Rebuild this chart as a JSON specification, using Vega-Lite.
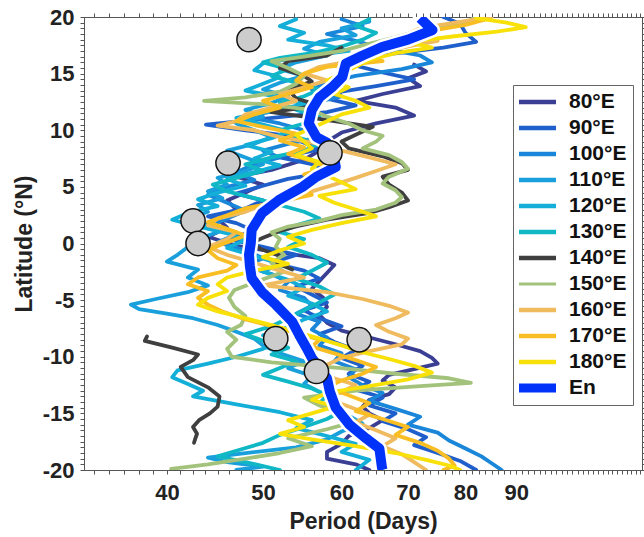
{
  "$schema": "https://vega.github.io/schema/vega-lite/v6.json",
  "width": 558,
  "height": 453,
  "autosize": {"type": "none"},
  "padding": {"left": 84, "top": 17, "right": 2, "bottom": 67},
  "background": "white",
  "config": {
    "view": {"stroke": "#555", "strokeWidth": 1},
    "font": "Liberation Sans",
    "axis": {
      "domainColor": "#555",
      "tickColor": "#555",
      "labelFont": "Liberation Sans",
      "labelFontSize": 22,
      "labelFontWeight": "bold",
      "labelColor": "#222",
      "titleFont": "Liberation Sans",
      "titleFontSize": 23,
      "titleFontWeight": "bold",
      "titleColor": "#222",
      "grid": false,
      "tickSize": 4,
      "labelOverlap": false,
      "labelBound": false,
      "labelFlush": false
    }
  },
  "datasets": {
    "lines": [
      {"lon":"80°E","lat":15.8,"period":71},{"lon":"80°E","lat":15.2,"period":73},{"lon":"80°E","lat":14.6,"period":70},{"lon":"80°E","lat":13.9,"period":72},{"lon":"80°E","lat":13.2,"period":66},{"lon":"80°E","lat":12.6,"period":62},{"lon":"80°E","lat":12.0,"period":68},{"lon":"80°E","lat":11.3,"period":71},{"lon":"80°E","lat":10.6,"period":65},{"lon":"80°E","lat":9.8,"period":60},{"lon":"80°E","lat":9.0,"period":58},{"lon":"80°E","lat":8.2,"period":57},{"lon":"80°E","lat":7.4,"period":55},{"lon":"80°E","lat":6.5,"period":51},{"lon":"80°E","lat":5.9,"period":47},{"lon":"80°E","lat":5.2,"period":50},{"lon":"80°E","lat":4.5,"period":48},{"lon":"80°E","lat":3.8,"period":46},{"lon":"80°E","lat":3.0,"period":47},{"lon":"80°E","lat":2.2,"period":45},{"lon":"80°E","lat":1.4,"period":46},{"lon":"80°E","lat":0.6,"period":44},{"lon":"80°E","lat":-0.2,"period":47},{"lon":"80°E","lat":-0.8,"period":52},{"lon":"80°E","lat":-1.3,"period":57},{"lon":"80°E","lat":-1.9,"period":59},{"lon":"80°E","lat":-2.6,"period":58},{"lon":"80°E","lat":-3.3,"period":57},{"lon":"80°E","lat":-4.0,"period":56},{"lon":"80°E","lat":-4.8,"period":57.5},{"lon":"80°E","lat":-5.6,"period":58},{"lon":"80°E","lat":-6.3,"period":57},{"lon":"80°E","lat":-7.0,"period":58},{"lon":"80°E","lat":-7.7,"period":60},{"lon":"80°E","lat":-8.3,"period":64},{"lon":"80°E","lat":-8.9,"period":68},{"lon":"80°E","lat":-9.5,"period":72},{"lon":"80°E","lat":-10.1,"period":74},{"lon":"80°E","lat":-10.6,"period":75},{"lon":"80°E","lat":-11.1,"period":71},{"lon":"80°E","lat":-11.6,"period":67},{"lon":"80°E","lat":-12.1,"period":66},{"lon":"80°E","lat":-12.7,"period":68},{"lon":"80°E","lat":-13.3,"period":67},{"lon":"80°E","lat":-13.8,"period":64},{"lon":"80°E","lat":-14.4,"period":63},{"lon":"80°E","lat":-15.0,"period":64},{"lon":"80°E","lat":-15.6,"period":66},{"lon":"80°E","lat":-16.3,"period":64},{"lon":"80°E","lat":-17.0,"period":61},{"lon":"80°E","lat":-17.7,"period":60},{"lon":"80°E","lat":-18.4,"period":58},{"lon":"80°E","lat":-19.0,"period":58},{"lon":"80°E","lat":-19.5,"period":62},{"lon":"80°E","lat":-20,"period":64},

      {"lon":"90°E","lat":20,"period":76},{"lon":"90°E","lat":19.4,"period":79},{"lon":"90°E","lat":18.6,"period":80},{"lon":"90°E","lat":17.8,"period":82},{"lon":"90°E","lat":17.3,"period":76},{"lon":"90°E","lat":16.8,"period":68},{"lon":"90°E","lat":16.3,"period":63},{"lon":"90°E","lat":15.7,"period":62},{"lon":"90°E","lat":15.1,"period":66},{"lon":"90°E","lat":14.5,"period":71},{"lon":"90°E","lat":13.9,"period":65},{"lon":"90°E","lat":13.4,"period":60},{"lon":"90°E","lat":12.8,"period":58},{"lon":"90°E","lat":12.2,"period":62},{"lon":"90°E","lat":11.6,"period":58},{"lon":"90°E","lat":11.0,"period":50},{"lon":"90°E","lat":10.5,"period":43.8},{"lon":"90°E","lat":10.0,"period":48},{"lon":"90°E","lat":9.5,"period":53},{"lon":"90°E","lat":8.9,"period":55},{"lon":"90°E","lat":8.3,"period":57},{"lon":"90°E","lat":7.6,"period":52},{"lon":"90°E","lat":7.0,"period":56},{"lon":"90°E","lat":6.4,"period":59},{"lon":"90°E","lat":5.7,"period":53},{"lon":"90°E","lat":5.1,"period":50},{"lon":"90°E","lat":4.4,"period":47},{"lon":"90°E","lat":3.8,"period":50},{"lon":"90°E","lat":3.1,"period":48},{"lon":"90°E","lat":2.4,"period":44},{"lon":"90°E","lat":1.8,"period":47},{"lon":"90°E","lat":1.1,"period":49},{"lon":"90°E","lat":0.4,"period":46},{"lon":"90°E","lat":-0.3,"period":50},{"lon":"90°E","lat":-1.0,"period":54},{"lon":"90°E","lat":-1.7,"period":51},{"lon":"90°E","lat":-2.4,"period":55},{"lon":"90°E","lat":-3.1,"period":57},{"lon":"90°E","lat":-3.8,"period":54},{"lon":"90°E","lat":-4.5,"period":56},{"lon":"90°E","lat":-5.2,"period":58},{"lon":"90°E","lat":-5.9,"period":55},{"lon":"90°E","lat":-6.6,"period":57},{"lon":"90°E","lat":-7.3,"period":60},{"lon":"90°E","lat":-8.0,"period":57},{"lon":"90°E","lat":-8.7,"period":59},{"lon":"90°E","lat":-9.4,"period":62},{"lon":"90°E","lat":-10.1,"period":60},{"lon":"90°E","lat":-10.8,"period":63},{"lon":"90°E","lat":-11.5,"period":61},{"lon":"90°E","lat":-12.2,"period":64},{"lon":"90°E","lat":-12.9,"period":62},{"lon":"90°E","lat":-13.6,"period":66},{"lon":"90°E","lat":-14.3,"period":64},{"lon":"90°E","lat":-15.0,"period":68},{"lon":"90°E","lat":-15.7,"period":66},{"lon":"90°E","lat":-16.4,"period":70},{"lon":"90°E","lat":-17.1,"period":73},{"lon":"90°E","lat":-17.8,"period":71},{"lon":"90°E","lat":-18.5,"period":75},{"lon":"90°E","lat":-19.2,"period":79},{"lon":"90°E","lat":-20,"period":82},

      {"lon":"100°E","lat":19.8,"period":60},{"lon":"100°E","lat":19.2,"period":63},{"lon":"100°E","lat":18.5,"period":58},{"lon":"100°E","lat":17.9,"period":62},{"lon":"100°E","lat":17.2,"period":66},{"lon":"100°E","lat":16.6,"period":72},{"lon":"100°E","lat":16.0,"period":74},{"lon":"100°E","lat":15.4,"period":69},{"lon":"100°E","lat":14.8,"period":62},{"lon":"100°E","lat":14.2,"period":58},{"lon":"100°E","lat":13.6,"period":56},{"lon":"100°E","lat":13.0,"period":60},{"lon":"100°E","lat":12.4,"period":56},{"lon":"100°E","lat":11.8,"period":52},{"lon":"100°E","lat":11.2,"period":48},{"lon":"100°E","lat":10.6,"period":52},{"lon":"100°E","lat":10.0,"period":55},{"lon":"100°E","lat":9.4,"period":57},{"lon":"100°E","lat":8.8,"period":53},{"lon":"100°E","lat":8.2,"period":50},{"lon":"100°E","lat":7.6,"period":52},{"lon":"100°E","lat":7.0,"period":49},{"lon":"100°E","lat":6.3,"period":47},{"lon":"100°E","lat":5.6,"period":49},{"lon":"100°E","lat":5.0,"period":46},{"lon":"100°E","lat":4.3,"period":44},{"lon":"100°E","lat":3.6,"period":46},{"lon":"100°E","lat":2.9,"period":48},{"lon":"100°E","lat":2.2,"period":46},{"lon":"100°E","lat":1.5,"period":44},{"lon":"100°E","lat":0.8,"period":47},{"lon":"100°E","lat":0.1,"period":45},{"lon":"100°E","lat":-0.6,"period":48},{"lon":"100°E","lat":-1.3,"period":50},{"lon":"100°E","lat":-2.0,"period":48},{"lon":"100°E","lat":-2.7,"period":51},{"lon":"100°E","lat":-3.4,"period":53},{"lon":"100°E","lat":-4.1,"period":52},{"lon":"100°E","lat":-4.8,"period":55},{"lon":"100°E","lat":-5.5,"period":56},{"lon":"100°E","lat":-6.2,"period":54},{"lon":"100°E","lat":-6.9,"period":57},{"lon":"100°E","lat":-7.6,"period":56},{"lon":"100°E","lat":-8.3,"period":58},{"lon":"100°E","lat":-9.0,"period":57},{"lon":"100°E","lat":-9.7,"period":60},{"lon":"100°E","lat":-10.4,"period":59},{"lon":"100°E","lat":-11.1,"period":62},{"lon":"100°E","lat":-11.8,"period":61},{"lon":"100°E","lat":-12.5,"period":63},{"lon":"100°E","lat":-13.2,"period":66},{"lon":"100°E","lat":-13.9,"period":64},{"lon":"100°E","lat":-14.6,"period":68},{"lon":"100°E","lat":-15.3,"period":72},{"lon":"100°E","lat":-16.0,"period":70},{"lon":"100°E","lat":-16.7,"period":75},{"lon":"100°E","lat":-17.4,"period":77},{"lon":"100°E","lat":-18.1,"period":80},{"lon":"100°E","lat":-18.8,"period":83},{"lon":"100°E","lat":-19.4,"period":85},{"lon":"100°E","lat":-20,"period":87},

      {"lon":"110°E","lat":19.6,"period":64},{"lon":"110°E","lat":19.0,"period":60},{"lon":"110°E","lat":18.4,"period":62},{"lon":"110°E","lat":17.8,"period":57},{"lon":"110°E","lat":17.2,"period":55},{"lon":"110°E","lat":16.6,"period":58},{"lon":"110°E","lat":16.0,"period":54},{"lon":"110°E","lat":15.4,"period":52},{"lon":"110°E","lat":14.8,"period":55},{"lon":"110°E","lat":14.2,"period":52},{"lon":"110°E","lat":13.6,"period":50},{"lon":"110°E","lat":13.0,"period":53},{"lon":"110°E","lat":12.4,"period":51},{"lon":"110°E","lat":11.8,"period":48},{"lon":"110°E","lat":11.2,"period":50},{"lon":"110°E","lat":10.6,"period":47},{"lon":"110°E","lat":10.0,"period":49},{"lon":"110°E","lat":9.4,"period":51},{"lon":"110°E","lat":8.8,"period":49},{"lon":"110°E","lat":8.2,"period":46},{"lon":"110°E","lat":7.6,"period":48},{"lon":"110°E","lat":7.0,"period":50},{"lon":"110°E","lat":6.4,"period":48},{"lon":"110°E","lat":5.8,"period":45},{"lon":"110°E","lat":5.2,"period":46},{"lon":"110°E","lat":4.6,"period":44},{"lon":"110°E","lat":4.0,"period":45.5},{"lon":"110°E","lat":3.4,"period":43},{"lon":"110°E","lat":2.8,"period":44},{"lon":"110°E","lat":2.2,"period":42},{"lon":"110°E","lat":1.6,"period":44},{"lon":"110°E","lat":1.0,"period":45},{"lon":"110°E","lat":0.4,"period":43},{"lon":"110°E","lat":-0.3,"period":42},{"lon":"110°E","lat":-1.0,"period":41},{"lon":"110°E","lat":-1.6,"period":40},{"lon":"110°E","lat":-2.3,"period":43},{"lon":"110°E","lat":-3.0,"period":42},{"lon":"110°E","lat":-3.7,"period":44},{"lon":"110°E","lat":-4.3,"period":42},{"lon":"110°E","lat":-4.9,"period":39},{"lon":"110°E","lat":-5.4,"period":36.8},{"lon":"110°E","lat":-5.8,"period":37.5},{"lon":"110°E","lat":-6.2,"period":40},{"lon":"110°E","lat":-6.6,"period":42.5},{"lon":"110°E","lat":-7.2,"period":45},{"lon":"110°E","lat":-7.8,"period":47},{"lon":"110°E","lat":-8.4,"period":49},{"lon":"110°E","lat":-9.0,"period":50},{"lon":"110°E","lat":-9.7,"period":52},{"lon":"110°E","lat":-10.4,"period":55},{"lon":"110°E","lat":-11.0,"period":53},{"lon":"110°E","lat":-11.7,"period":56},{"lon":"110°E","lat":-12.4,"period":55},{"lon":"110°E","lat":-13.1,"period":57},{"lon":"110°E","lat":-13.8,"period":59},{"lon":"110°E","lat":-14.5,"period":58},{"lon":"110°E","lat":-15.2,"period":61},{"lon":"110°E","lat":-15.9,"period":63},{"lon":"110°E","lat":-16.6,"period":60},{"lon":"110°E","lat":-17.3,"period":58},{"lon":"110°E","lat":-18.0,"period":54},{"lon":"110°E","lat":-18.5,"period":48},{"lon":"110°E","lat":-18.9,"period":44},{"lon":"110°E","lat":-19.3,"period":46},{"lon":"110°E","lat":-19.7,"period":50},{"lon":"110°E","lat":-20,"period":47},

      {"lon":"120°E","lat":19.8,"period":54},{"lon":"120°E","lat":19.2,"period":52},{"lon":"120°E","lat":18.6,"period":55},{"lon":"120°E","lat":18.0,"period":53},{"lon":"120°E","lat":17.5,"period":58},{"lon":"120°E","lat":17.0,"period":61},{"lon":"120°E","lat":16.5,"period":55},{"lon":"120°E","lat":15.9,"period":50},{"lon":"120°E","lat":15.3,"period":49},{"lon":"120°E","lat":14.7,"period":52},{"lon":"120°E","lat":14.1,"period":50},{"lon":"120°E","lat":13.5,"period":48},{"lon":"120°E","lat":12.9,"period":52},{"lon":"120°E","lat":12.3,"period":55},{"lon":"120°E","lat":11.7,"period":51},{"lon":"120°E","lat":11.1,"period":47},{"lon":"120°E","lat":10.5,"period":50},{"lon":"120°E","lat":9.9,"period":53},{"lon":"120°E","lat":9.3,"period":51},{"lon":"120°E","lat":8.7,"period":48},{"lon":"120°E","lat":8.1,"period":51},{"lon":"120°E","lat":7.5,"period":49},{"lon":"120°E","lat":6.9,"period":52},{"lon":"120°E","lat":6.3,"period":49},{"lon":"120°E","lat":5.7,"period":46},{"lon":"120°E","lat":5.1,"period":48},{"lon":"120°E","lat":4.5,"period":45},{"lon":"120°E","lat":3.9,"period":43},{"lon":"120°E","lat":3.3,"period":45},{"lon":"120°E","lat":2.7,"period":42},{"lon":"120°E","lat":2.1,"period":40.5},{"lon":"120°E","lat":1.5,"period":43},{"lon":"120°E","lat":0.9,"period":46},{"lon":"120°E","lat":0.3,"period":48},{"lon":"120°E","lat":-0.4,"period":46},{"lon":"120°E","lat":-1.1,"period":49},{"lon":"120°E","lat":-1.8,"period":52},{"lon":"120°E","lat":-2.5,"period":50},{"lon":"120°E","lat":-3.2,"period":53},{"lon":"120°E","lat":-3.9,"period":55},{"lon":"120°E","lat":-4.6,"period":53},{"lon":"120°E","lat":-5.3,"period":56},{"lon":"120°E","lat":-6.0,"period":58},{"lon":"120°E","lat":-6.7,"period":55},{"lon":"120°E","lat":-7.4,"period":53},{"lon":"120°E","lat":-8.1,"period":50},{"lon":"120°E","lat":-8.7,"period":52},{"lon":"120°E","lat":-9.3,"period":50},{"lon":"120°E","lat":-10.0,"period":47},{"lon":"120°E","lat":-10.6,"period":44},{"lon":"120°E","lat":-11.2,"period":41},{"lon":"120°E","lat":-11.8,"period":40.5},{"lon":"120°E","lat":-12.4,"period":42},{"lon":"120°E","lat":-13.0,"period":43.5},{"lon":"120°E","lat":-13.5,"period":42.5},{"lon":"120°E","lat":-14.2,"period":47},{"lon":"120°E","lat":-14.9,"period":52},{"lon":"120°E","lat":-15.6,"period":56},{"lon":"120°E","lat":-16.3,"period":54},{"lon":"120°E","lat":-17.0,"period":58},{"lon":"120°E","lat":-17.7,"period":62},{"lon":"120°E","lat":-18.4,"period":60},{"lon":"120°E","lat":-19.1,"period":64},{"lon":"120°E","lat":-20,"period":62},

      {"lon":"130°E","lat":19.8,"period":64},{"lon":"130°E","lat":19.2,"period":62},{"lon":"130°E","lat":18.6,"period":65},{"lon":"130°E","lat":18.0,"period":63},{"lon":"130°E","lat":17.4,"period":60},{"lon":"130°E","lat":16.8,"period":56},{"lon":"130°E","lat":16.4,"period":52},{"lon":"130°E","lat":16.0,"period":50},{"lon":"130°E","lat":15.4,"period":53},{"lon":"130°E","lat":14.8,"period":51},{"lon":"130°E","lat":14.2,"period":54},{"lon":"130°E","lat":13.6,"period":57},{"lon":"130°E","lat":13.0,"period":55},{"lon":"130°E","lat":12.4,"period":52},{"lon":"130°E","lat":11.8,"period":54},{"lon":"130°E","lat":11.2,"period":57},{"lon":"130°E","lat":10.6,"period":55},{"lon":"130°E","lat":10.0,"period":52},{"lon":"130°E","lat":9.4,"period":54},{"lon":"130°E","lat":8.8,"period":57},{"lon":"130°E","lat":8.2,"period":55},{"lon":"130°E","lat":7.6,"period":51},{"lon":"130°E","lat":7.0,"period":48},{"lon":"130°E","lat":6.4,"period":50},{"lon":"130°E","lat":5.8,"period":47},{"lon":"130°E","lat":5.2,"period":44.5},{"lon":"130°E","lat":4.6,"period":46},{"lon":"130°E","lat":4.0,"period":49},{"lon":"130°E","lat":3.4,"period":52},{"lon":"130°E","lat":2.8,"period":55},{"lon":"130°E","lat":2.2,"period":57},{"lon":"130°E","lat":1.6,"period":54},{"lon":"130°E","lat":1.0,"period":52},{"lon":"130°E","lat":0.4,"period":55},{"lon":"130°E","lat":-0.3,"period":53},{"lon":"130°E","lat":-1.0,"period":56},{"lon":"130°E","lat":-1.7,"period":58},{"lon":"130°E","lat":-2.4,"period":56},{"lon":"130°E","lat":-3.1,"period":54},{"lon":"130°E","lat":-3.8,"period":57},{"lon":"130°E","lat":-4.5,"period":59},{"lon":"130°E","lat":-5.2,"period":57},{"lon":"130°E","lat":-5.9,"period":55},{"lon":"130°E","lat":-6.6,"period":53},{"lon":"130°E","lat":-7.3,"period":51},{"lon":"130°E","lat":-8.0,"period":48},{"lon":"130°E","lat":-8.6,"period":50},{"lon":"130°E","lat":-9.2,"period":53},{"lon":"130°E","lat":-9.8,"period":51},{"lon":"130°E","lat":-10.4,"period":54},{"lon":"130°E","lat":-11.0,"period":52},{"lon":"130°E","lat":-11.6,"period":50},{"lon":"130°E","lat":-12.2,"period":53},{"lon":"130°E","lat":-12.8,"period":56},{"lon":"130°E","lat":-13.4,"period":58},{"lon":"130°E","lat":-14.1,"period":57},{"lon":"130°E","lat":-14.8,"period":60},{"lon":"130°E","lat":-15.5,"period":58},{"lon":"130°E","lat":-16.2,"period":55},{"lon":"130°E","lat":-16.9,"period":52},{"lon":"130°E","lat":-17.6,"period":50},{"lon":"130°E","lat":-18.3,"period":47},{"lon":"130°E","lat":-18.8,"period":45},{"lon":"130°E","lat":-19.3,"period":48},{"lon":"130°E","lat":-20,"period":52},

      {"lon":"140°E","seg":"n","lat":17.3,"period":60},{"lon":"140°E","seg":"n","lat":16.6,"period":58},{"lon":"140°E","seg":"n","lat":16.1,"period":53},{"lon":"140°E","seg":"n","lat":15.5,"period":52},{"lon":"140°E","seg":"n","lat":14.8,"period":55},{"lon":"140°E","seg":"n","lat":14.3,"period":56},{"lon":"140°E","seg":"n","lat":13.6,"period":53},{"lon":"140°E","seg":"n","lat":12.8,"period":54},{"lon":"140°E","seg":"n","lat":12.2,"period":57},{"lon":"140°E","seg":"n","lat":11.6,"period":51},{"lon":"140°E","seg":"n","lat":11.2,"period":55},{"lon":"140°E","seg":"n","lat":10.8,"period":59},{"lon":"140°E","seg":"n","lat":10.3,"period":64.5},{"lon":"140°E","seg":"n","lat":9.6,"period":62},{"lon":"140°E","seg":"n","lat":9.0,"period":60},{"lon":"140°E","seg":"n","lat":8.4,"period":61},{"lon":"140°E","seg":"n","lat":7.7,"period":66},{"lon":"140°E","seg":"n","lat":7.1,"period":69},{"lon":"140°E","seg":"n","lat":6.5,"period":70},{"lon":"140°E","seg":"n","lat":5.9,"period":66},{"lon":"140°E","seg":"n","lat":5.2,"period":67},{"lon":"140°E","seg":"n","lat":4.5,"period":69},{"lon":"140°E","seg":"n","lat":3.8,"period":70},{"lon":"140°E","seg":"n","lat":3.2,"period":67},{"lon":"140°E","seg":"n","lat":2.7,"period":64},{"lon":"140°E","seg":"n","lat":2.1,"period":58},{"lon":"140°E","seg":"n","lat":1.5,"period":54},{"lon":"140°E","seg":"n","lat":1.1,"period":52},{"lon":"140°E","seg":"n","lat":0.5,"period":50},{"lon":"140°E","seg":"n","lat":0,"period":48.6},{"lon":"140°E","seg":"n","lat":-0.5,"period":49.8},{"lon":"140°E","seg":"n","lat":-1.1,"period":52},{"lon":"140°E","seg":"n","lat":-1.7,"period":51.5},{"lon":"140°E","seg":"n","lat":-2.3,"period":53.5},
      {"lon":"140°E","seg":"s","lat":-8.2,"period":38.2},{"lon":"140°E","seg":"s","lat":-8.6,"period":38.0},{"lon":"140°E","seg":"s","lat":-9.2,"period":40.5},{"lon":"140°E","seg":"s","lat":-9.8,"period":43.0},{"lon":"140°E","seg":"s","lat":-10.3,"period":42.5},{"lon":"140°E","seg":"s","lat":-10.9,"period":41.3},{"lon":"140°E","seg":"s","lat":-11.8,"period":42.0},{"lon":"140°E","seg":"s","lat":-12.7,"period":44.0},{"lon":"140°E","seg":"s","lat":-13.5,"period":45.2},{"lon":"140°E","seg":"s","lat":-14.4,"period":45.0},{"lon":"140°E","seg":"s","lat":-15.0,"period":44.2},{"lon":"140°E","seg":"s","lat":-15.6,"period":43.1},{"lon":"140°E","seg":"s","lat":-16.2,"period":42.5},{"lon":"140°E","seg":"s","lat":-16.8,"period":42.9},{"lon":"140°E","seg":"s","lat":-17.3,"period":42.7},{"lon":"140°E","seg":"s","lat":-17.6,"period":42.6},

      {"lon":"150°E","lat":20,"period":82},{"lon":"150°E","lat":19.5,"period":80},{"lon":"150°E","lat":18.8,"period":72},{"lon":"150°E","lat":18.2,"period":68},{"lon":"150°E","lat":17.5,"period":63},{"lon":"150°E","lat":17.0,"period":60},{"lon":"150°E","lat":16.5,"period":55},{"lon":"150°E","lat":16.1,"period":51},{"lon":"150°E","lat":15.5,"period":53},{"lon":"150°E","lat":14.8,"period":55},{"lon":"150°E","lat":14.1,"period":54},{"lon":"150°E","lat":13.4,"period":52},{"lon":"150°E","lat":12.9,"period":48},{"lon":"150°E","lat":12.6,"period":43.6},{"lon":"150°E","lat":12.3,"period":50},{"lon":"150°E","lat":11.8,"period":56},{"lon":"150°E","lat":11.2,"period":58},{"lon":"150°E","lat":10.6,"period":61},{"lon":"150°E","lat":10.0,"period":63},{"lon":"150°E","lat":9.5,"period":66},{"lon":"150°E","lat":9.0,"period":65},{"lon":"150°E","lat":8.4,"period":63},{"lon":"150°E","lat":7.8,"period":67},{"lon":"150°E","lat":7.2,"period":69},{"lon":"150°E","lat":6.6,"period":70},{"lon":"150°E","lat":5.9,"period":67},{"lon":"150°E","lat":5.3,"period":66},{"lon":"150°E","lat":4.7,"period":68},{"lon":"150°E","lat":4.1,"period":69},{"lon":"150°E","lat":3.6,"period":68},{"lon":"150°E","lat":3.0,"period":65},{"lon":"150°E","lat":2.5,"period":60},{"lon":"150°E","lat":2.0,"period":57},{"lon":"150°E","lat":1.5,"period":53},{"lon":"150°E","lat":1.0,"period":51},{"lon":"150°E","lat":0.4,"period":52},{"lon":"150°E","lat":-0.3,"period":51.5},{"lon":"150°E","lat":-1.0,"period":52.5},{"lon":"150°E","lat":-1.7,"period":51},{"lon":"150°E","lat":-2.5,"period":52.5},{"lon":"150°E","lat":-3.3,"period":49.5},{"lon":"150°E","lat":-4.1,"period":46.8},{"lon":"150°E","lat":-4.8,"period":46.2},{"lon":"150°E","lat":-5.6,"period":46.8},{"lon":"150°E","lat":-6.4,"period":48},{"lon":"150°E","lat":-7.2,"period":47.5},{"lon":"150°E","lat":-7.8,"period":46},{"lon":"150°E","lat":-8.5,"period":47},{"lon":"150°E","lat":-9.3,"period":46},{"lon":"150°E","lat":-10.0,"period":46.5},{"lon":"150°E","lat":-10.5,"period":51},{"lon":"150°E","lat":-11.0,"period":60},{"lon":"150°E","lat":-11.5,"period":68},{"lon":"150°E","lat":-11.9,"period":77},{"lon":"150°E","lat":-12.3,"period":81},{"lon":"150°E","lat":-12.6,"period":72},{"lon":"150°E","lat":-13.0,"period":62},{"lon":"150°E","lat":-13.6,"period":55},{"lon":"150°E","lat":-14.3,"period":57},{"lon":"150°E","lat":-15.0,"period":60},{"lon":"150°E","lat":-15.7,"period":62},{"lon":"150°E","lat":-16.4,"period":58},{"lon":"150°E","lat":-17.2,"period":53},{"lon":"150°E","lat":-17.9,"period":56},{"lon":"150°E","lat":-18.5,"period":52},{"lon":"150°E","lat":-19.0,"period":48},{"lon":"150°E","lat":-19.5,"period":44},{"lon":"150°E","lat":-19.9,"period":40.4},

      {"lon":"160°E","lat":20,"period":85},{"lon":"160°E","lat":19.5,"period":78},{"lon":"160°E","lat":19.0,"period":72},{"lon":"160°E","lat":18.5,"period":70},{"lon":"160°E","lat":17.9,"period":75},{"lon":"160°E","lat":17.4,"period":70},{"lon":"160°E","lat":16.8,"period":65},{"lon":"160°E","lat":16.2,"period":62},{"lon":"160°E","lat":15.6,"period":57},{"lon":"160°E","lat":15.0,"period":55},{"lon":"160°E","lat":14.4,"period":58},{"lon":"160°E","lat":13.8,"period":55},{"lon":"160°E","lat":13.2,"period":52},{"lon":"160°E","lat":12.6,"period":54},{"lon":"160°E","lat":12.0,"period":51},{"lon":"160°E","lat":11.4,"period":48},{"lon":"160°E","lat":10.8,"period":47},{"lon":"160°E","lat":10.4,"period":45},{"lon":"160°E","lat":10.0,"period":49},{"lon":"160°E","lat":9.4,"period":52},{"lon":"160°E","lat":8.8,"period":57},{"lon":"160°E","lat":8.2,"period":60},{"lon":"160°E","lat":7.6,"period":64},{"lon":"160°E","lat":7.0,"period":68},{"lon":"160°E","lat":6.4,"period":65},{"lon":"160°E","lat":5.8,"period":62},{"lon":"160°E","lat":5.2,"period":59},{"lon":"160°E","lat":4.6,"period":56},{"lon":"160°E","lat":4.0,"period":53},{"lon":"160°E","lat":3.4,"period":50},{"lon":"160°E","lat":2.8,"period":48},{"lon":"160°E","lat":2.2,"period":45},{"lon":"160°E","lat":1.6,"period":44},{"lon":"160°E","lat":1.0,"period":47},{"lon":"160°E","lat":0.4,"period":46},{"lon":"160°E","lat":-0.3,"period":44},{"lon":"160°E","lat":-1.0,"period":46},{"lon":"160°E","lat":-1.7,"period":49},{"lon":"160°E","lat":-2.4,"period":52},{"lon":"160°E","lat":-3.0,"period":55},{"lon":"160°E","lat":-3.7,"period":50},{"lon":"160°E","lat":-4.3,"period":58},{"lon":"160°E","lat":-4.9,"period":63},{"lon":"160°E","lat":-5.5,"period":67},{"lon":"160°E","lat":-6.1,"period":70},{"lon":"160°E","lat":-6.6,"period":68},{"lon":"160°E","lat":-7.2,"period":65},{"lon":"160°E","lat":-7.8,"period":67},{"lon":"160°E","lat":-8.4,"period":70},{"lon":"160°E","lat":-8.9,"period":69},{"lon":"160°E","lat":-9.5,"period":64},{"lon":"160°E","lat":-10.1,"period":60},{"lon":"160°E","lat":-10.7,"period":58},{"lon":"160°E","lat":-11.3,"period":57},{"lon":"160°E","lat":-11.9,"period":59},{"lon":"160°E","lat":-12.5,"period":62},{"lon":"160°E","lat":-13.1,"period":60},{"lon":"160°E","lat":-13.7,"period":58},{"lon":"160°E","lat":-14.4,"period":61},{"lon":"160°E","lat":-15.1,"period":64},{"lon":"160°E","lat":-15.8,"period":62},{"lon":"160°E","lat":-16.5,"period":65},{"lon":"160°E","lat":-17.2,"period":68},{"lon":"160°E","lat":-17.9,"period":66},{"lon":"160°E","lat":-18.6,"period":69},{"lon":"160°E","lat":-19.3,"period":71},{"lon":"160°E","lat":-20,"period":73},

      {"lon":"170°E","lat":19.8,"period":84},{"lon":"170°E","lat":19.3,"period":80},{"lon":"170°E","lat":18.8,"period":74},{"lon":"170°E","lat":18.3,"period":70},{"lon":"170°E","lat":17.8,"period":72},{"lon":"170°E","lat":17.3,"period":66},{"lon":"170°E","lat":16.7,"period":62},{"lon":"170°E","lat":16.1,"period":66},{"lon":"170°E","lat":15.6,"period":58},{"lon":"170°E","lat":15.0,"period":55},{"lon":"170°E","lat":14.4,"period":54},{"lon":"170°E","lat":13.8,"period":56},{"lon":"170°E","lat":13.2,"period":53},{"lon":"170°E","lat":12.6,"period":50},{"lon":"170°E","lat":12.0,"period":52},{"lon":"170°E","lat":11.4,"period":49},{"lon":"170°E","lat":10.8,"period":47},{"lon":"170°E","lat":10.3,"period":50},{"lon":"170°E","lat":9.7,"period":54},{"lon":"170°E","lat":9.1,"period":52},{"lon":"170°E","lat":8.5,"period":55},{"lon":"170°E","lat":7.9,"period":53},{"lon":"170°E","lat":7.3,"period":56},{"lon":"170°E","lat":6.7,"period":58},{"lon":"170°E","lat":6.1,"period":55},{"lon":"170°E","lat":5.5,"period":57},{"lon":"170°E","lat":4.9,"period":55},{"lon":"170°E","lat":4.3,"period":56},{"lon":"170°E","lat":3.7,"period":52},{"lon":"170°E","lat":3.1,"period":48},{"lon":"170°E","lat":2.5,"period":46},{"lon":"170°E","lat":1.9,"period":44},{"lon":"170°E","lat":1.3,"period":46},{"lon":"170°E","lat":0.7,"period":48},{"lon":"170°E","lat":0.1,"period":46},{"lon":"170°E","lat":-0.6,"period":44},{"lon":"170°E","lat":-1.3,"period":45},{"lon":"170°E","lat":-1.9,"period":47},{"lon":"170°E","lat":-2.4,"period":46},{"lon":"170°E","lat":-3.0,"period":43},{"lon":"170°E","lat":-3.6,"period":42},{"lon":"170°E","lat":-4.2,"period":44},{"lon":"170°E","lat":-4.8,"period":43},{"lon":"170°E","lat":-5.4,"period":44},{"lon":"170°E","lat":-6.0,"period":45.5},{"lon":"170°E","lat":-6.7,"period":48},{"lon":"170°E","lat":-7.3,"period":51},{"lon":"170°E","lat":-7.9,"period":54},{"lon":"170°E","lat":-8.5,"period":57},{"lon":"170°E","lat":-9.1,"period":56},{"lon":"170°E","lat":-9.7,"period":59},{"lon":"170°E","lat":-10.3,"period":62},{"lon":"170°E","lat":-10.9,"period":65},{"lon":"170°E","lat":-11.5,"period":63},{"lon":"170°E","lat":-12.1,"period":60},{"lon":"170°E","lat":-12.7,"period":58},{"lon":"170°E","lat":-13.4,"period":61},{"lon":"170°E","lat":-14.1,"period":64},{"lon":"170°E","lat":-14.8,"period":62},{"lon":"170°E","lat":-15.5,"period":66},{"lon":"170°E","lat":-16.2,"period":70},{"lon":"170°E","lat":-16.9,"period":68},{"lon":"170°E","lat":-17.6,"period":72},{"lon":"170°E","lat":-18.3,"period":75},{"lon":"170°E","lat":-19.0,"period":77},{"lon":"170°E","lat":-19.6,"period":78},{"lon":"170°E","lat":-20,"period":76},

      {"lon":"180°E","lat":19.9,"period":82},{"lon":"180°E","lat":19.5,"period":88},{"lon":"180°E","lat":19.1,"period":92},{"lon":"180°E","lat":18.7,"period":86},{"lon":"180°E","lat":18.3,"period":78},{"lon":"180°E","lat":17.8,"period":70},{"lon":"180°E","lat":17.3,"period":74},{"lon":"180°E","lat":16.8,"period":68},{"lon":"180°E","lat":16.2,"period":64},{"lon":"180°E","lat":15.6,"period":62},{"lon":"180°E","lat":15.0,"period":60},{"lon":"180°E","lat":14.4,"period":58},{"lon":"180°E","lat":13.8,"period":61},{"lon":"180°E","lat":13.2,"period":59},{"lon":"180°E","lat":12.6,"period":62},{"lon":"180°E","lat":12.0,"period":64},{"lon":"180°E","lat":11.4,"period":60},{"lon":"180°E","lat":10.8,"period":58},{"lon":"180°E","lat":10.2,"period":56},{"lon":"180°E","lat":9.6,"period":54},{"lon":"180°E","lat":9.0,"period":55},{"lon":"180°E","lat":8.4,"period":56},{"lon":"180°E","lat":7.8,"period":54},{"lon":"180°E","lat":7.2,"period":57},{"lon":"180°E","lat":6.6,"period":56},{"lon":"180°E","lat":6.0,"period":58},{"lon":"180°E","lat":5.4,"period":60},{"lon":"180°E","lat":4.8,"period":62},{"lon":"180°E","lat":4.2,"period":57},{"lon":"180°E","lat":3.6,"period":59},{"lon":"180°E","lat":3.0,"period":62},{"lon":"180°E","lat":2.4,"period":65},{"lon":"180°E","lat":1.8,"period":60},{"lon":"180°E","lat":1.2,"period":56},{"lon":"180°E","lat":0.6,"period":53},{"lon":"180°E","lat":0.0,"period":55},{"lon":"180°E","lat":-0.6,"period":52},{"lon":"180°E","lat":-1.2,"period":50},{"lon":"180°E","lat":-1.8,"period":53},{"lon":"180°E","lat":-2.4,"period":49},{"lon":"180°E","lat":-3.0,"period":46},{"lon":"180°E","lat":-3.6,"period":45},{"lon":"180°E","lat":-4.2,"period":46},{"lon":"180°E","lat":-4.8,"period":44},{"lon":"180°E","lat":-5.4,"period":43},{"lon":"180°E","lat":-6.0,"period":45},{"lon":"180°E","lat":-6.6,"period":48},{"lon":"180°E","lat":-7.2,"period":51},{"lon":"180°E","lat":-7.8,"period":54},{"lon":"180°E","lat":-8.4,"period":57},{"lon":"180°E","lat":-9.0,"period":60},{"lon":"180°E","lat":-9.6,"period":63},{"lon":"180°E","lat":-10.2,"period":67},{"lon":"180°E","lat":-10.8,"period":71},{"lon":"180°E","lat":-11.4,"period":74},{"lon":"180°E","lat":-12.0,"period":70},{"lon":"180°E","lat":-12.6,"period":64},{"lon":"180°E","lat":-13.2,"period":58},{"lon":"180°E","lat":-13.8,"period":56},{"lon":"180°E","lat":-14.4,"period":59},{"lon":"180°E","lat":-15.0,"period":56},{"lon":"180°E","lat":-15.6,"period":53},{"lon":"180°E","lat":-16.2,"period":55},{"lon":"180°E","lat":-16.8,"period":52},{"lon":"180°E","lat":-17.3,"period":56},{"lon":"180°E","lat":-17.9,"period":62},{"lon":"180°E","lat":-18.5,"period":68},{"lon":"180°E","lat":-19.1,"period":73},{"lon":"180°E","lat":-19.6,"period":77},{"lon":"180°E","lat":-20,"period":79}
    ],
    "ensemble": [
      {"lon":"En","lat":19.9,"period":72.0},{"lon":"En","lat":18.85,"period":74.1},{"lon":"En","lat":18.0,"period":70},{"lon":"En","lat":17.35,"period":65.9},{"lon":"En","lat":16.6,"period":63},{"lon":"En","lat":15.9,"period":60.6},{"lon":"En","lat":14.7,"period":60.1},{"lon":"En","lat":13.8,"period":58.7},{"lon":"En","lat":12.9,"period":57.0},{"lon":"En","lat":11.8,"period":56.0},{"lon":"En","lat":10.6,"period":55.6},{"lon":"En","lat":9.4,"period":56.6},{"lon":"En","lat":8.9,"period":58.0},{"lon":"En","lat":8.3,"period":58.5},{"lon":"En","lat":7.5,"period":59.0},{"lon":"En","lat":6.75,"period":59.2},{"lon":"En","lat":5.9,"period":56.6},{"lon":"En","lat":5.0,"period":54.8},{"lon":"En","lat":3.85,"period":51.9},{"lon":"En","lat":2.7,"period":49.9},{"lon":"En","lat":1.2,"period":48.7},{"lon":"En","lat":0.04,"period":48.6},{"lon":"En","lat":-1.0,"period":48.4},{"lon":"En","lat":-2.0,"period":48.5},{"lon":"En","lat":-3.05,"period":48.7},{"lon":"En","lat":-4.3,"period":49.9},{"lon":"En","lat":-5.4,"period":51.5},{"lon":"En","lat":-6.9,"period":53.5},{"lon":"En","lat":-8.1,"period":54.4},{"lon":"En","lat":-9.2,"period":55.3},{"lon":"En","lat":-10.1,"period":56.0},{"lon":"En","lat":-11.9,"period":58.0},{"lon":"En","lat":-13.1,"period":58.4},{"lon":"En","lat":-14.5,"period":59.2},{"lon":"En","lat":-16.0,"period":61.1},{"lon":"En","lat":-17.2,"period":63.5},{"lon":"En","lat":-18.1,"period":65.5},{"lon":"En","lat":-19.8,"period":65.9},{"lon":"En","lat":-20,"period":66}
    ],
    "dots": [
      {"lat":18,"period":48.4},{"lat":7.1,"period":46.1},{"lat":2.0,"period":42.5},{"lat":0.0,"period":43.0},
      {"lat":8.0,"period":58.4},{"lat":-8.4,"period":51.5},{"lat":-11.3,"period":56.6},{"lat":-8.5,"period":62.5}
    ]
  },
  "resolve": {"axis": {"x": "independent", "y": "independent"}},
  "layer": [
    {
      "data": {"name": "lines"},
      "mark": {"type": "line", "strokeWidth": 3.8, "strokeJoin": "round", "strokeCap": "round", "clip": true},
      "encoding": {
        "x": {
          "field": "period", "type": "quantitative",
          "scale": {"type": "log", "domain": [33, 120.5], "nice": false, "zero": false},
          "axis": {
            "orient": "bottom",
            "title": "Period (Days)",
            "titlePadding": 7,
            "labelPadding": 8,
            "values": [33.75,35,36.25,37.5,38.75,40,41.25,42.5,43.75,45,46.25,47.5,48.75,50,51.25,52.5,53.75,55,56.25,57.5,58.75,60,61.25,62.5,63.75,65,66.25,67.5,68.75,70,71.25,72.5,73.75,75,76.25,77.5,78.75,80,81.25,82.5,83.75,85,86.25,87.5,88.75,90,91.25,92.5,93.75,95,96.25,97.5,98.75,100,101.25,102.5,103.75,105,106.25,107.5,108.75,110,111.25,112.5,113.75,115,116.25,117.5,118.75,120],
            "labelExpr": "datum.value % 10 === 0 && datum.value <= 90 ? toString(datum.value) : ''",
            "encode": {"ticks": {"update": {"y2": {"signal": "datum.value % 10 === 0 && datum.value <= 90 ? 7 : 4"}}}}
          }
        },
        "y": {
          "field": "lat", "type": "quantitative",
          "scale": {"domain": [-20, 20], "nice": false, "zero": false},
          "axis": {
            "orient": "left",
            "title": "Latitude (°N)",
            "titlePadding": 6,
            "labelPadding": 6,
            "values": [-20,-19.5,-19,-18.5,-18,-17.5,-17,-16.5,-16,-15.5,-15,-14.5,-14,-13.5,-13,-12.5,-12,-11.5,-11,-10.5,-10,-9.5,-9,-8.5,-8,-7.5,-7,-6.5,-6,-5.5,-5,-4.5,-4,-3.5,-3,-2.5,-2,-1.5,-1,-0.5,0,0.5,1,1.5,2,2.5,3,3.5,4,4.5,5,5.5,6,6.5,7,7.5,8,8.5,9,9.5,10,10.5,11,11.5,12,12.5,13,13.5,14,14.5,15,15.5,16,16.5,17,17.5,18,18.5,19,19.5,20],
            "labelExpr": "datum.value % 5 === 0 ? toString(datum.value) : ''",
            "encode": {"ticks": {"update": {"x2": {"signal": "datum.value % 5 === 0 ? -7 : -4"}}}}
          }
        },
        "color": {
          "field": "lon", "type": "nominal",
          "scale": {
            "domain": ["80°E","90°E","100°E","110°E","120°E","130°E","140°E","150°E","160°E","170°E","180°E","En"],
            "range": ["#3a3f94","#1f5fcc","#1a86d9","#19a0dc","#14afd8","#10b8c6","#3f3f3f","#a3c27c","#efbb5e","#f9be24","#f8e108","#0032fa"]
          },
          "legend": {
            "orient": "none",
            "legendX": 429,
            "legendY": 68,
            "title": null,
            "symbolType": "stroke",
            "symbolSize": 1369,
            "symbolStrokeWidth": 4.5,
            "clipHeight": 22,
            "rowPadding": 4,
            "labelOffset": 21,
            "symbolOffset": 8,
            "padding": 6,
            "strokeColor": "#666",
            "fillColor": "white",
            "labelFont": "Liberation Sans",
            "labelFontSize": 21,
            "labelFontWeight": "bold",
            "labelColor": "#111",
            "labelLimit": 200,
            "encode": {"symbols": {"update": {"strokeWidth": {"signal": "datum.value === 'En' ? 9 : datum.value === '150°E' ? 3 : 4.5"}}}}
          }
        },
        "detail": {"field": "seg", "type": "nominal"},
        "order": {"field": "lat", "type": "quantitative"}
      }
    },
    {
      "data": {"name": "ensemble"},
      "mark": {"type": "line", "color": "white", "strokeWidth": 15, "strokeJoin": "round", "strokeCap": "round", "clip": true},
      "encoding": {
        "x": {
          "field": "period", "type": "quantitative",
          "axis": {
            "orient": "top", "title": null, "labels": false,
            "values": [33.75,35,36.25,37.5,38.75,40,41.25,42.5,43.75,45,46.25,47.5,48.75,50,51.25,52.5,53.75,55,56.25,57.5,58.75,60,61.25,62.5,63.75,65,66.25,67.5,68.75,70,71.25,72.5,73.75,75,76.25,77.5,78.75,80,81.25,82.5,83.75,85,86.25,87.5,88.75,90,91.25,92.5,93.75,95,96.25,97.5,98.75,100,101.25,102.5,103.75,105,106.25,107.5,108.75,110,111.25,112.5,113.75,115,116.25,117.5,118.75,120],
            "encode": {"ticks": {"update": {"y2": {"signal": "datum.value % 10 === 0 && datum.value <= 90 ? -7 : -4"}}}}
          }
        },
        "y": {
          "field": "lat", "type": "quantitative",
          "axis": {
            "orient": "right", "title": null, "labels": false,
            "values": [-20,-19.5,-19,-18.5,-18,-17.5,-17,-16.5,-16,-15.5,-15,-14.5,-14,-13.5,-13,-12.5,-12,-11.5,-11,-10.5,-10,-9.5,-9,-8.5,-8,-7.5,-7,-6.5,-6,-5.5,-5,-4.5,-4,-3.5,-3,-2.5,-2,-1.5,-1,-0.5,0,0.5,1,1.5,2,2.5,3,3.5,4,4.5,5,5.5,6,6.5,7,7.5,8,8.5,9,9.5,10,10.5,11,11.5,12,12.5,13,13.5,14,14.5,15,15.5,16,16.5,17,17.5,18,18.5,19,19.5,20]
          }
        },
        "order": {"field": "lat", "type": "quantitative"}
      }
    },
    {
      "data": {"name": "ensemble"},
      "mark": {"type": "line", "strokeWidth": 10, "strokeJoin": "round", "strokeCap": "butt", "clip": true},
      "encoding": {
        "x": {"field": "period", "type": "quantitative", "axis": null},
        "y": {"field": "lat", "type": "quantitative", "axis": null},
        "color": {"field": "lon", "type": "nominal"},
        "order": {"field": "lat", "type": "quantitative"}
      }
    },
    {
      "data": {"name": "dots"},
      "mark": {"type": "point", "shape": "circle", "filled": true, "fill": "#cccccc", "stroke": "#111", "strokeWidth": 1.5, "opacity": 1, "size": 590},
      "encoding": {
        "x": {"field": "period", "type": "quantitative", "axis": null},
        "y": {"field": "lat", "type": "quantitative", "axis": null}
      }
    }
  ]
}
